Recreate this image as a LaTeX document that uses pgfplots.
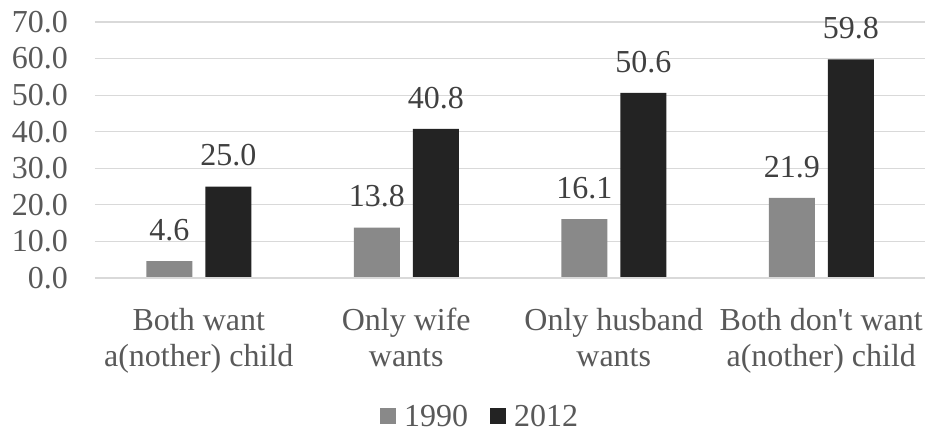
\documentclass[border=0pt]{standalone}
\usepackage{fontspec}
\setmainfont{Liberation Serif}[Ligatures=TeXOff]
\usepackage{pgfplots}
\pgfplotsset{compat=1.18}
\definecolor{barA}{HTML}{898989}
\definecolor{barB}{HTML}{232323}
\definecolor{txt}{HTML}{595959}
\definecolor{lbl}{HTML}{404040}
\definecolor{grd}{HTML}{D9D9D9}
\begin{document}
\begin{tikzpicture}
\begin{axis}[
  at={(0pt,0pt)}, anchor=south west,
  scale only axis,
  width=830pt, height=256pt,
  ymin=0, ymax=70, ytick={0,10,...,70},
  xmin=-0.5, xmax=3.5,
  xtick={0,1,2,3},
  xticklabels={{Both want\\a(nother) child},{Only wife\\wants},{Only husband\\wants},{Both don't want\\a(nother) child}},
  ybar=13pt, bar width=46pt,
  axis line style={draw=none},
  major tick length=0pt,
  ymajorgrids, grid style={grd, line width=1.2pt},
  /pgf/number format/assume math mode=true,
  /pgf/number format/fixed, /pgf/number format/zerofill, /pgf/number format/precision=1,
  yticklabel style={font=\fontsize{32}{36}\selectfont, text=txt, inner sep=0pt, anchor=east, xshift=-27pt},
  xticklabel style={font=\fontsize{32}{36}\selectfont, text=txt, inner sep=0pt, anchor=north, yshift=-30pt, align=center},
  nodes near coords,
  nodes near coords style={font=\fontsize{32}{36}\selectfont, text=lbl, inner sep=0pt, anchor=south, yshift=20pt,
    /pgf/number format/fixed, /pgf/number format/zerofill, /pgf/number format/precision=1},
  legend style={at={(0.464,-0.54)}, anchor=center, draw=none, fill=none,
    font=\fontsize{32}{36}\selectfont, text=txt, legend columns=2,
    /tikz/every odd column/.append style={column sep=6pt},
    /tikz/every even column/.append style={column sep=20pt}},
  legend image code/.code={\fill[#1] (0pt,-8pt) rectangle (16pt,8pt);},
  clip=false,
]
\addplot[fill=barA, draw=none] coordinates {(0,4.6) (1,13.8) (2,16.1) (3,21.9)};
\addplot[fill=barB, draw=none] coordinates {(0,25.0) (1,40.8) (2,50.6) (3,59.8)};
\draw[grd, line width=1.2pt] (axis cs:-0.5,0) -- (axis cs:3.5,0);
\legend{1990,2012}
\end{axis}
\pgfresetboundingbox
\path[use as bounding box] (-95pt,-155pt) rectangle (830pt,278pt);
\end{tikzpicture}
\end{document}
